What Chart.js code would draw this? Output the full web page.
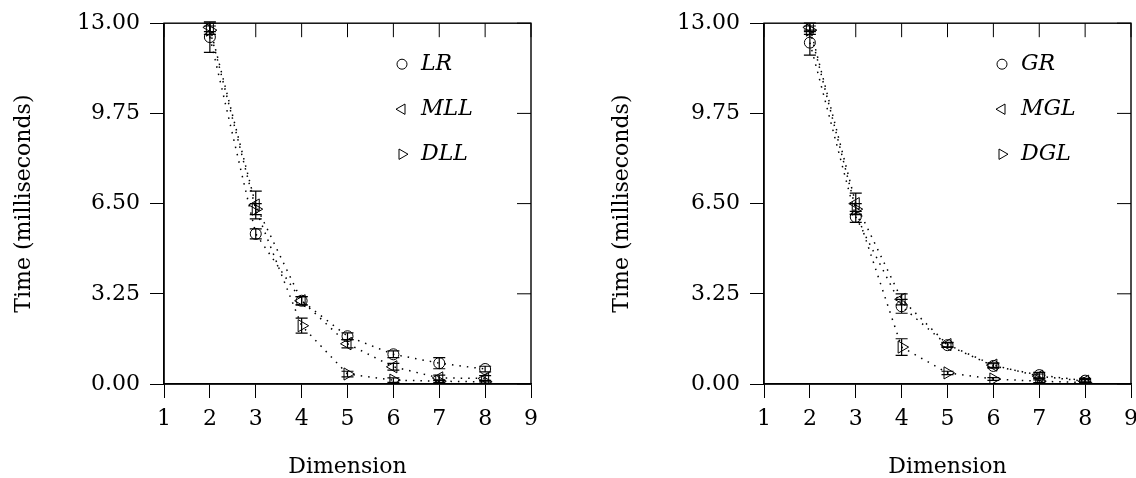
<!DOCTYPE html>
<html>
<head>
<meta charset="utf-8">
<script src="https://cdn.jsdelivr.net/npm/chart.js@4/dist/chart.umd.min.js"></script>
<style>
  html, body { margin: 0; padding: 0; background: #fff; overflow: hidden; }
  #wrap { position: relative; width: 1136px; height: 478px; overflow: hidden; }
  .pane { position: absolute; top: 0; height: 478px; }
</style>
</head>
<body>
<div id="wrap">
  <div class="pane" style="left:0;width:568px"><canvas id="chartLeft" width="568" height="478"></canvas></div>
  <div class="pane" style="left:568px;width:578px"><canvas id="chartRight" width="578" height="478"></canvas></div>
</div>
<script>
// dados
const dims = [2, 3, 4, 5, 6, 7, 8];
const yTicks = [0, 3.25, 6.5, 9.75, 13];

// painel esquerdo
const lrVals  = [12.5, 5.41, 3.0, 1.72, 1.07, 0.75, 0.54];
const lrErr   = [0.55, 0.18, 0.15, 0.12, 0.12, 0.2, 0.1];
const mllVals = [12.85, 6.45, 3.0, 1.45, 0.62, 0.22, 0.2];
const mllErr  = [0.15, 0.5, 0.15, 0.15, 0.12, 0.1, 0.1];
const dllVals = [12.75, 6.3, 2.1, 0.36, 0.14, 0.1, 0.08];
const dllErr  = [0.15, 0.2, 0.27, 0.1, 0.08, 0.05, 0.05];

// painel direito
const grVals  = [12.3, 6.02, 2.8, 1.4, 0.65, 0.32, 0.12];
const grErr   = [0.45, 0.2, 0.25, 0.08, 0.08, 0.1, 0.08];
const mglVals = [12.85, 6.5, 3.05, 1.42, 0.68, 0.28, 0.1];
const mglErr  = [0.15, 0.38, 0.2, 0.08, 0.08, 0.08, 0.06];
const dglVals = [12.75, 6.3, 1.33, 0.4, 0.18, 0.1, 0.05];
const dglErr  = [0.15, 0.2, 0.3, 0.06, 0.05, 0.05, 0.03];

const SERIF = "'DejaVu Serif', 'Liberation Serif', serif";
Chart.defaults.font.family = SERIF;
Chart.defaults.color = '#000';

const TICK = 14;

function serie(label, vals, errs, style, rot) {
    return {
        label: label,
        data: dims.map((d, i) => ({ x: d, y: vals[i] })),
        errors: errs,
        showLine: true,
        borderColor: '#000',
        borderWidth: 1.5,
        borderDash: [1.5, 6],
        pointStyle: style,
        rotation: rot,
        pointRadius: style === 'circle' ? 5.5 : 7,
        pointBorderWidth: 1,
        pointBorderColor: '#000',
        pointBackgroundColor: 'rgba(255,255,255,0)',
        tension: 0
    };
}

// barras de erro com traços nas pontas
const errorBars = {
    id: 'errorBars',
    afterDatasetsDraw(chart) {
        const ctx = chart.ctx;
        const y = chart.scales.y;
        ctx.save();
        ctx.strokeStyle = '#000';
        ctx.lineWidth = 1.2;
        chart.data.datasets.forEach((ds, di) => {
            const meta = chart.getDatasetMeta(di);
            meta.data.forEach((pt, i) => {
                const e = ds.errors[i];
                if (!e) return;
                const v = ds.data[i].y;
                const top = y.getPixelForValue(v + e);
                const bot = y.getPixelForValue(v - e);
                ctx.beginPath();
                ctx.moveTo(pt.x, top); ctx.lineTo(pt.x, bot);
                ctx.moveTo(pt.x - 6, top); ctx.lineTo(pt.x + 6, top);
                ctx.moveTo(pt.x - 6, bot); ctx.lineTo(pt.x + 6, bot);
                ctx.stroke();
            });
        });
        ctx.restore();
    }
};

// moldura + ticks internos em cima e à direita
const frame = {
    id: 'frame',
    afterDraw(chart) {
        const { ctx, chartArea: a, scales: { x, y } } = chart;
        ctx.save();
        ctx.strokeStyle = '#000';
        ctx.lineWidth = 1.4;
        ctx.strokeRect(a.left, a.top, a.right - a.left, a.bottom - a.top);
        ctx.beginPath();
        x.ticks.forEach(t => {
            const px = x.getPixelForValue(t.value);
            ctx.moveTo(px, a.top); ctx.lineTo(px, a.top + TICK);
        });
        y.ticks.forEach(t => {
            const py = y.getPixelForValue(t.value);
            ctx.moveTo(a.right - TICK, py); ctx.lineTo(a.right, py);
        });
        ctx.lineWidth = 1;
        ctx.stroke();
        ctx.restore();
    }
};

// legenda dentro da área do gráfico
const insideLegend = {
    id: 'insideLegend',
    afterDraw(chart) {
        const { ctx, chartArea: a } = chart;
        const mx = a.right - 129;
        ctx.save();
        chart.data.datasets.forEach((ds, i) => {
            const my = a.top + 41 + i * 45;
            ctx.strokeStyle = '#000';
            ctx.fillStyle = '#fff';
            ctx.lineWidth = 1;
            if (Chart.helpers && Chart.helpers.drawPoint) {
                Chart.helpers.drawPoint(ctx, {
                    pointStyle: ds.pointStyle, rotation: ds.rotation,
                    radius: ds.pointStyle === 'circle' ? 5 : 6, borderWidth: 1
                }, mx, my);
            }
            ctx.fillStyle = '#000';
            ctx.font = 'italic 22px ' + SERIF;
            ctx.textBaseline = 'middle';
            ctx.textAlign = 'left';
            ctx.fillText(ds.label, mx + 19, my);
        });
        ctx.restore();
    }
};

function criarGrafico(id, datasets, yWidth, padRight, titlePad) {
    return new Chart(document.getElementById(id), {
        type: 'scatter',
        data: { datasets: datasets },
        plugins: [errorBars, frame, insideLegend],
        options: {
            responsive: false,
            animation: false,
            layout: { padding: { left: 0, top: 21, right: padRight, bottom: 0 } },
            plugins: { legend: { display: false }, tooltip: { enabled: false } },
            scales: {
                x: {
                    type: 'linear',
                    min: 1, max: 9,
                    afterFit: s => { s.height = 94; },
                    afterBuildTicks: s => { s.ticks = [1, 2, 3, 4, 5, 6, 7, 8, 9].map(v => ({ value: v })); },
                    ticks: { font: { size: 22 }, padding: 8, maxRotation: 0 },
                    grid: { drawOnChartArea: false, drawTicks: true, tickLength: TICK, color: '#000' },
                    border: { display: true, color: '#000', width: 1.4 },
                    title: { display: true, text: 'Dimension', font: { size: 22 }, padding: { top: 0, bottom: -2 } }
                },
                y: {
                    type: 'linear',
                    min: 0, max: 13,
                    afterFit: s => { s.width = yWidth; },
                    afterBuildTicks: s => { s.ticks = yTicks.map(v => ({ value: v })); },
                    ticks: { font: { size: 22 }, padding: 10, callback: v => Number(v).toFixed(2) },
                    grid: { drawOnChartArea: false, drawTicks: true, tickLength: TICK, color: '#000' },
                    border: { display: true, color: '#000', width: 1.4 },
                    title: { display: true, text: 'Time (milliseconds)', font: { size: 22 }, padding: { top: titlePad, bottom: 0 } }
                }
            }
        }
    });
}

document.addEventListener('DOMContentLoaded', () => {
    criarGrafico('chartLeft', [
        serie('LR', lrVals, lrErr, 'circle', 0),
        serie('MLL', mllVals, mllErr, 'triangle', -90),
        serie('DLL', dllVals, dllErr, 'triangle', 90)
    ], 164, 37, 11);

    criarGrafico('chartRight', [
        serie('GR', grVals, grErr, 'circle', 0),
        serie('MGL', mglVals, mglErr, 'triangle', -90),
        serie('DGL', dglVals, dglErr, 'triangle', 90)
    ], 196, 0, 41);
});
</script>
</body>
</html>
